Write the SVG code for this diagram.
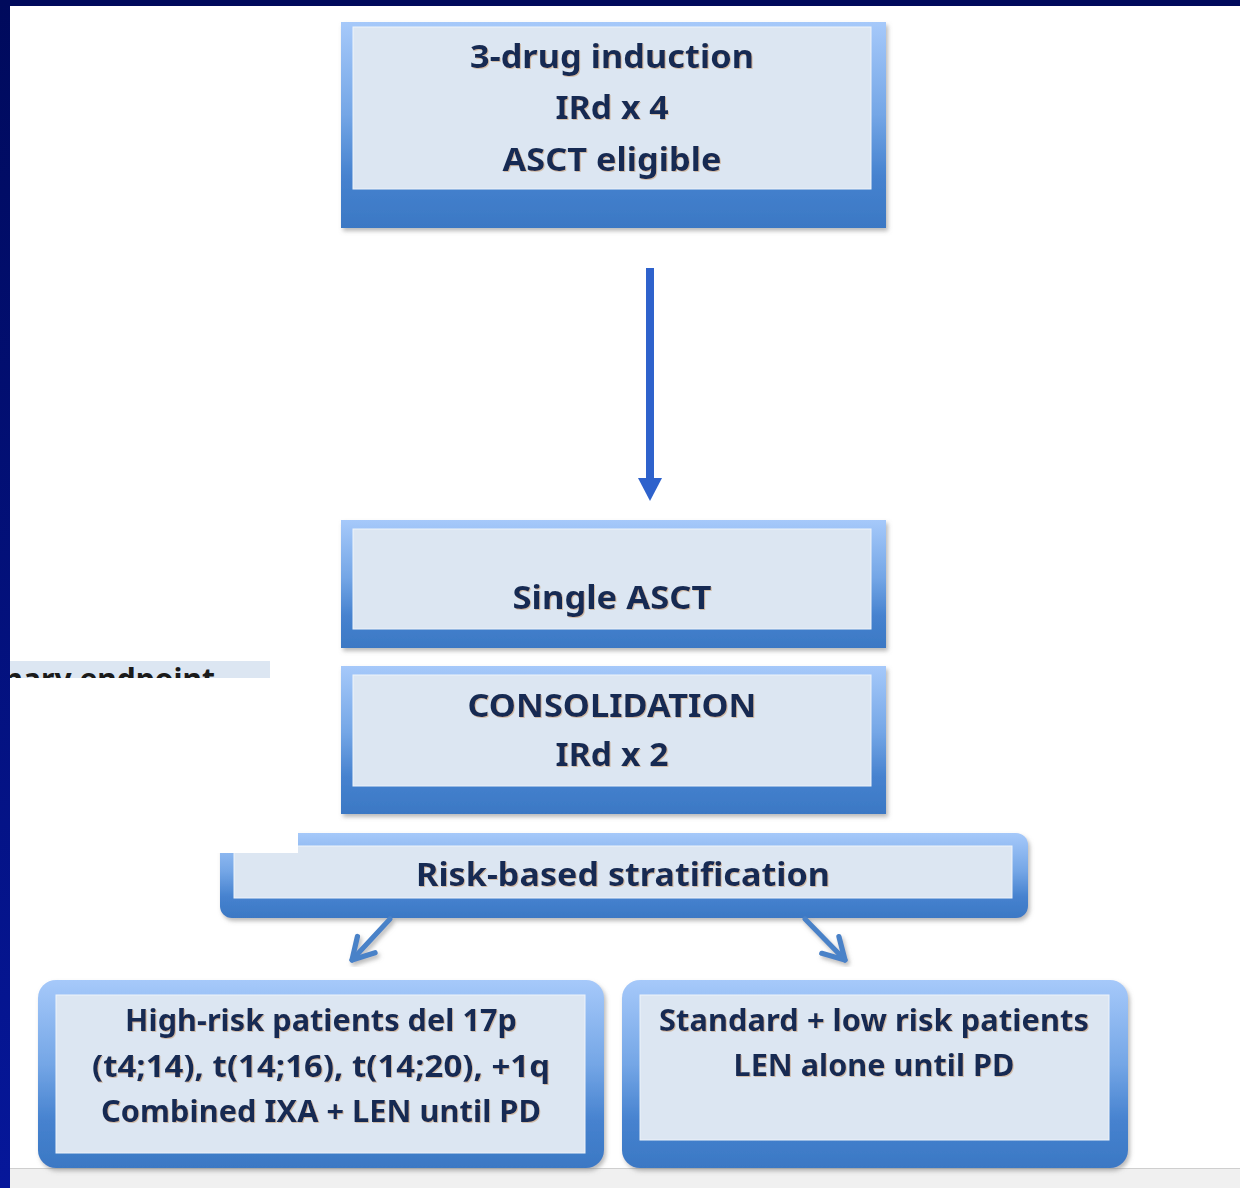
<svg xmlns="http://www.w3.org/2000/svg" width="1240" height="1188" viewBox="0 0 1240 1188">
<defs>
<linearGradient id="frameG" x1="0" y1="0" x2="0" y2="1">
<stop offset="0" stop-color="#a6c9fa"/>
<stop offset="0.45" stop-color="#74a6e6"/>
<stop offset="0.75" stop-color="#4682cf"/>
<stop offset="1" stop-color="#3b78c4"/>
</linearGradient>
<linearGradient id="leftG" x1="0" y1="0" x2="0" y2="1">
<stop offset="0" stop-color="#000a5c"/>
<stop offset="1" stop-color="#06179a"/>
</linearGradient>
<filter id="sh" x="-5%" y="-5%" width="112%" height="120%">
<feDropShadow dx="2" dy="3" stdDeviation="2" flood-color="#808080" flood-opacity="0.55"/>
</filter>
<filter id="tsh" x="-5%" y="-20%" width="110%" height="140%">
<feDropShadow dx="1" dy="1" stdDeviation="0.6" flood-color="#c9a27a" flood-opacity="0.6"/>
</filter>
<clipPath id="fragClip"><rect x="10" y="661" width="260" height="17"/></clipPath>
<marker id="chev" viewBox="0 0 20 20" refX="17" refY="10" markerWidth="6" markerHeight="6" orient="auto" markerUnits="strokeWidth">
<path d="M3,2 L17,10 L3,18" fill="none" stroke="#4a82c8" stroke-width="3.5" stroke-linecap="round" stroke-linejoin="round"/>
</marker>
</defs>
<style>
.outer{fill:url(#frameG);filter:url(#sh)}
.inner{fill:#dce6f2;stroke:#eef3fa;stroke-width:1}
.t{font-family:"Noto Sans","Open Sans","Liberation Sans",sans-serif;font-weight:bold;fill:#172b52;text-anchor:middle;filter:url(#tsh)}
.conn{stroke:#4a82c8;stroke-width:5;fill:none;stroke-linecap:round}
</style>
<rect width="1240" height="1188" fill="#ffffff"/>
<!-- frame -->
<rect x="0" y="0" width="1240" height="6" fill="#000a5c"/>
<rect x="0" y="0" width="10" height="1188" fill="url(#leftG)"/>
<rect x="10" y="1168" width="1230" height="20" fill="#f0f0f0"/>
<line x1="10" y1="1168.5" x2="1240" y2="1168.5" stroke="#cfcfcf" stroke-width="1"/>
<!-- clipped fragment -->
<g id="fragment">
<rect x="10" y="661" width="260" height="17" fill="#dce6f2"/>
<text x="215" y="690" clip-path="url(#fragClip)" style="font-family:'Noto Sans','Open Sans',sans-serif;font-weight:bold;font-size:30px;fill:#1a1a1a;text-anchor:end">primary endpoint</text>
</g>
<g id="n-induction">
<rect class="outer" x="341" y="22" width="545" height="206"/>
<rect class="inner" x="353" y="27" width="518" height="162"/>
<text class="t" x="612" y="68" font-size="32" textLength="284" lengthAdjust="spacingAndGlyphs">3-drug induction</text>
<text class="t" x="612" y="119" font-size="32" textLength="113" lengthAdjust="spacingAndGlyphs">IRd x 4</text>
<text class="t" x="612" y="171" font-size="32" textLength="219" lengthAdjust="spacingAndGlyphs">ASCT eligible</text>
</g>
<g id="n-asct">
<rect class="outer" x="341" y="520" width="545" height="128"/>
<rect class="inner" x="353" y="529" width="518" height="100"/>
<text class="t" x="612" y="609" font-size="32" textLength="199" lengthAdjust="spacingAndGlyphs">Single ASCT</text>
</g>
<g id="n-consolidation">
<rect class="outer" x="341" y="666" width="545" height="148"/>
<rect class="inner" x="353" y="675" width="518" height="111"/>
<text class="t" x="612" y="717" font-size="32" textLength="289" lengthAdjust="spacingAndGlyphs">CONSOLIDATION</text>
<text class="t" x="612" y="766" font-size="32" textLength="113" lengthAdjust="spacingAndGlyphs">IRd x 2</text>
</g>
<g id="n-risk">
<rect class="outer" x="220" y="833" width="808" height="85" rx="12"/>
<rect class="inner" x="234" y="846" width="778" height="52"/>
<rect x="214" y="820" width="84" height="33" fill="#ffffff"/>
<text class="t" x="623" y="886" font-size="32" textLength="414" lengthAdjust="spacingAndGlyphs">Risk-based stratification</text>
</g>
<g id="n-high">
<rect class="outer" x="38" y="980" width="566" height="188" rx="18"/>
<rect class="inner" x="56" y="995" width="529" height="158"/>
<text class="t" x="321" y="1031" font-size="31" textLength="392" lengthAdjust="spacingAndGlyphs">High-risk patients del 17p</text>
<text class="t" x="321" y="1077" font-size="31" textLength="458" lengthAdjust="spacingAndGlyphs">(t4;14), t(14;16), t(14;20), +1q</text>
<text class="t" x="321" y="1122" font-size="31" textLength="440" lengthAdjust="spacingAndGlyphs">Combined IXA + LEN until PD</text>
</g>
<g id="n-standard">
<rect class="outer" x="622" y="980" width="506" height="188" rx="18"/>
<rect class="inner" x="640" y="995" width="469" height="145"/>
<text class="t" x="874" y="1031" font-size="31" textLength="430" lengthAdjust="spacingAndGlyphs">Standard + low risk patients</text>
<text class="t" x="874" y="1076" font-size="31" textLength="281" lengthAdjust="spacingAndGlyphs">LEN alone until PD</text>
</g>
<g id="connectors">
<line x1="650" y1="268" x2="650" y2="480" stroke="#2e62cc" stroke-width="8"/>
<polygon points="638,478 662,478 650,501" fill="#2e62cc"/>
<g filter="url(#sh)">
<line class="conn" x1="390" y1="919" x2="352" y2="960" marker-end="url(#chev)"/>
<line class="conn" x1="805" y1="919" x2="845" y2="960" marker-end="url(#chev)"/>
</g>
</g>
</svg>
